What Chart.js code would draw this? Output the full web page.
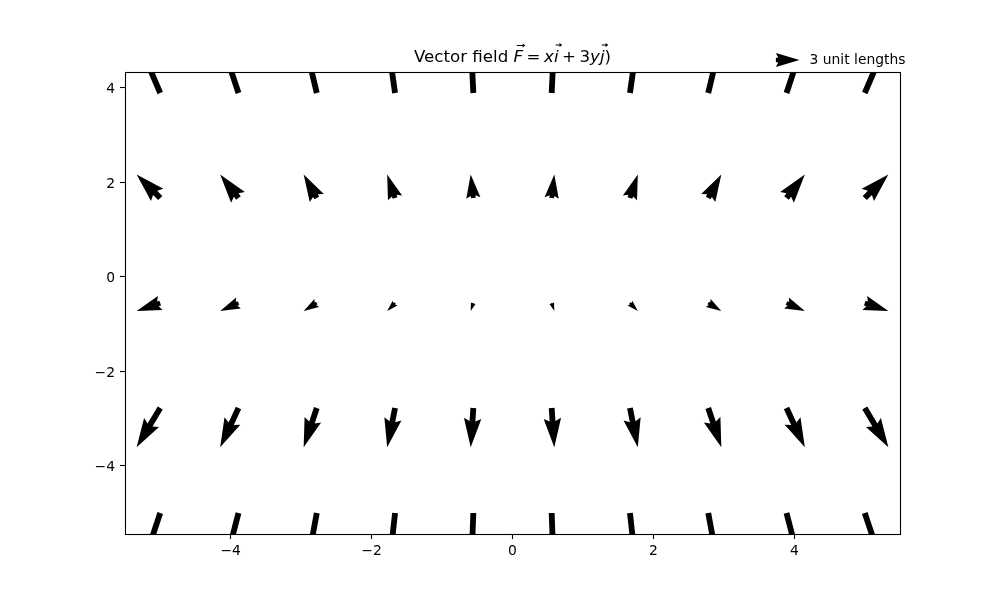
<!DOCTYPE html>
<html><head><meta charset="utf-8">
<script src="https://cdn.jsdelivr.net/npm/chart.js@4/dist/chart.umd.min.js"></script>
<style>html,body{margin:0;padding:0;background:#fff}canvas{display:block}</style>
</head><body>
<canvas id="c" width="1000" height="600"></canvas>
<script>
// ---- data ----
const xPositions = [-5, -3.889, -2.778, -1.667, -0.556, 0.556, 1.667, 2.778, 3.889, 5];
const yPositions = [-5, -2.778, -0.556, 1.667, 3.889];
const uComponents = [-5, -3.889, -2.778, -1.667, -0.556, 0.556, 1.667, 2.778, 3.889, 5]; // per column
const vComponents = [-15, -8.333, -1.667, 5, 11.667];                                    // per row
const xTickValues = [-4, -2, 0, 2, 4];
const yTickValues = [-4, -2, 0, 2, 4];
const xLimits = [-5.5, 5.5];
const yLimits = [-5.4444, 4.3333];
const keyLabel = '3 unit lengths';
const keyUnits = 5;

const points = [];
yPositions.forEach((y, r) => xPositions.forEach((x, c) =>
  points.push({ x: x, y: y, u: uComponents[c], v: vComponents[r] })));

// ---- style ----
const PX_PER_UNIT = 4.72;
const SHAFT = 5.81;
const FONT = 'DejaVu Sans';
const TICK_SIZE = 13.89;

function fmt(v) { return v < 0 ? '\u2212' + Math.abs(v) : String(v); }

function arrowPoly(lenPx) {
  const L = lenPx / SHAFT, hl = 5, hal = 4.5, minsh = 5;
  let X, Y;
  if (L < minsh) {
    const s = L / minsh;
    X = [0, minsh - hal, minsh - hl, minsh, minsh - hl, minsh - hal, 0].map(v => v * s);
    Y = [0.5, 0.5, 1.5, 0, -1.5, -0.5, -0.5].map(v => v * s);
  } else {
    X = [0, L - hal, L - hl, L, L - hl, L - hal, 0];
    Y = [0.5, 0.5, 1.5, 0, -1.5, -0.5, -0.5];
  }
  return X.map((x, i) => [x * SHAFT, Y[i] * SHAFT]);
}
function drawArrow(ctx, px, py, u, v, pxPerUnit, pivotTip) {
  const mag = Math.hypot(u, v);
  const len = mag * pxPerUnit;
  const th = Math.atan2(v, u);
  const c = Math.cos(th), s = Math.sin(th);
  const pts = arrowPoly(len);
  const off = pivotTip ? -len : 0;
  ctx.beginPath();
  pts.forEach(([x, y], i) => {
    const xx = x + off;
    const sx = px + xx * c - y * s;
    const sy = py - (xx * s + y * c);
    if (i === 0) ctx.moveTo(sx, sy); else ctx.lineTo(sx, sy);
  });
  ctx.closePath();
  ctx.fill();
}

const quiverPlugin = {
  id: 'quiver',
  afterDatasetsDraw(chart) {
    const ctx = chart.ctx, a = chart.chartArea;
    const meta = chart.getDatasetMeta(0);
    ctx.save();
    ctx.beginPath();
    ctx.rect(a.left, a.top, a.right - a.left, a.bottom - a.top);
    ctx.clip();
    ctx.fillStyle = '#000';
    meta.data.forEach((el, i) => {
      const d = chart.data.datasets[0].data[i];
      drawArrow(ctx, el.x, el.y, d.u, d.v, PX_PER_UNIT, false);
    });
    ctx.restore();
  },
  afterDraw(chart) {
    const ctx = chart.ctx, a = chart.chartArea;
    ctx.save();
    // frame
    ctx.strokeStyle = '#000';
    ctx.lineWidth = 1.1;
    ctx.strokeRect(Math.round(a.left) + 0.5, Math.round(a.top) + 0.5,
                   Math.round(a.right - a.left), Math.round(a.bottom - a.top));
    // quiver key
    ctx.fillStyle = '#000';
    drawArrow(ctx, 799.5, 60, keyUnits, 0, PX_PER_UNIT, true);
    ctx.font = TICK_SIZE + 'px "' + FONT + '"';
    ctx.textBaseline = 'middle';
    ctx.textAlign = 'left';
    ctx.fillText(keyLabel, 809.5, 60);
    // title with math parts
    const size = 16.67;
    const parts = [
      { t: 'Vector field ', it: false },
      { t: 'F', it: true, vec: true, vw: 8, vy: 45.5 },
      { t: '=', it: false, pad: 3.5 },
      { t: 'x', it: true },
      { t: 'i', it: true, vec: true, vw: 6, vy: 45 },
      { t: '+', it: false, pad: 3.5 },
      { t: '3', it: false },
      { t: 'y', it: true },
      { t: 'j', it: true, vec: true, vw: 6, vy: 45 },
      { t: ')', it: false }
    ];
    const fontOf = p => (p.it ? 'italic ' : '') + size + 'px "' + FONT + '"';
    let total = 0;
    parts.forEach(p => { ctx.font = fontOf(p); p.w = ctx.measureText(p.t).width; total += p.w + 2 * (p.pad || 0); });
    let x = (a.left + a.right) / 2 - total / 2;
    const base = 61.5;
    ctx.textBaseline = 'alphabetic';
    ctx.textAlign = 'left';
    parts.forEach(p => {
      x += p.pad || 0;
      ctx.font = fontOf(p);
      ctx.fillText(p.t, x, base);
      if (p.vec) {
        const cx = x + p.w / 2 + 2.5;
        const x0 = cx - p.vw / 2, x1 = cx + p.vw / 2, yv = p.vy;
        ctx.lineWidth = 1;
        ctx.beginPath(); ctx.moveTo(x0, yv); ctx.lineTo(x1 - 1, yv); ctx.stroke();
        ctx.beginPath(); ctx.moveTo(x1 + 0.5, yv); ctx.lineTo(x1 - 2.2, yv - 2); ctx.lineTo(x1 - 2.2, yv + 2); ctx.closePath(); ctx.fill();
      }
      x += p.w + (p.pad || 0);
    });
    ctx.restore();
  }
};

const tickFont = { family: FONT, size: TICK_SIZE };
new Chart(document.getElementById('c'), {
  type: 'scatter',
  data: { datasets: [{ data: points, pointRadius: 0, pointHoverRadius: 0, showLine: false }] },
  options: {
    responsive: false, animation: false, devicePixelRatio: 1,
    layout: { padding: { left: 0, top: 72, right: 100, bottom: 0 } },
    plugins: { legend: { display: false }, tooltip: { enabled: false }, title: { display: false } },
    events: [],
    scales: {
      x: {
        type: 'linear', min: xLimits[0], max: xLimits[1],
        afterBuildTicks: s => { s.ticks = xTickValues.map(v => ({ value: v })); },
        afterFit: s => { s.height = 66; },
        grid: { drawOnChartArea: false, drawTicks: true, tickLength: 5, tickColor: '#000', tickWidth: 1.1 },
        border: { display: false },
        ticks: { color: '#000', font: tickFont, padding: 4, maxRotation: 0, autoSkip: false, callback: v => fmt(v) }
      },
      y: {
        type: 'linear', min: yLimits[0], max: yLimits[1],
        afterBuildTicks: s => { s.ticks = yTickValues.map(v => ({ value: v })); },
        afterFit: s => { s.width = 125; },
        grid: { drawOnChartArea: false, drawTicks: true, tickLength: 5, tickColor: '#000', tickWidth: 1.1 },
        border: { display: false },
        ticks: { color: '#000', font: tickFont, padding: 5, labelOffset: 2, autoSkip: false, callback: v => fmt(v) }
      }
    }
  },
  plugins: [quiverPlugin]
});
</script>
</body></html>
